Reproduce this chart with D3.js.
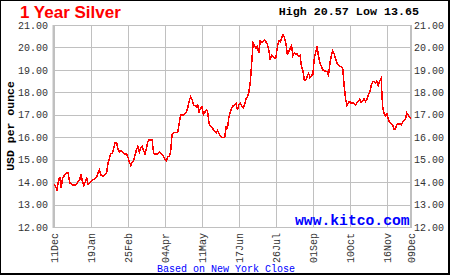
<!DOCTYPE html>
<html>
<head>
<meta charset="utf-8">
<script src="https://cdn.jsdelivr.net/npm/d3@7"></script>
<style>
  body { margin: 0; background: #fff; }
  svg { display: block; }
</style>
</head>
<body>
<script>
// tick labels along the bottom, and the trading-day index each one sits on
const dayLabels = ["11Dec", "19Jan", "25Feb", "04Apr", "11May", "17Jun", "26Jul", "01Sep", "10Oct", "16Nov", "09Dec"];
const dayTicks = [0, 26, 52, 78, 104, 130, 156, 182, 208, 234, 251];
const priceTicks = [12, 13, 14, 15, 16, 17, 18, 19, 20, 21];

// daily close, USD per ounce
const silver = [
  13.91, 13.83, 13.65, 14.02, 14.24, 13.72, 14.17, 14.27, 14.35, 14.40, 14.40, 13.97, 13.94, 13.87, 13.86, 13.87, 13.94, 14.02, 14.09, 14.35, 14.02, 13.83, 14.02, 14.17, 13.90, 13.97,
  14.02, 14.09, 14.12, 14.17, 14.24, 14.42, 14.54, 14.32, 14.27, 14.27, 14.36, 14.42, 14.84, 15.06, 15.28, 15.28, 15.50, 15.76, 15.76, 15.46, 15.35, 15.40, 15.35, 15.30, 15.25, 15.28,
  15.10, 14.90, 14.75, 14.90, 14.95, 15.20, 15.45, 15.60, 15.34, 15.55, 15.60, 15.40, 15.25, 15.50, 15.80, 15.90, 15.88, 15.88, 15.30, 15.25, 15.25, 15.25, 15.35, 15.30, 15.22, 15.15,
  15.00, 14.95, 15.15, 15.15, 15.35, 16.10, 16.20, 16.20, 16.20, 16.25, 16.60, 17.00, 17.00, 17.00, 17.05, 17.10, 17.29, 17.60, 17.80, 17.70, 17.45, 17.40, 17.35, 17.45, 17.10, 17.30,
  17.35, 17.00, 17.10, 17.21, 17.15, 16.60, 16.50, 16.45, 16.35, 16.25, 16.20, 16.30, 16.15, 16.05, 15.98, 15.98, 16.00, 16.45, 16.40, 16.90, 17.15, 17.30, 17.40, 17.43, 17.50, 17.20,
  17.45, 17.50, 17.40, 17.30, 17.45, 17.70, 17.80, 18.00, 18.45, 19.30, 20.20, 20.10, 19.95, 20.05, 19.74, 20.30, 20.25, 20.25, 20.33, 20.25, 20.15, 19.90, 19.44, 19.65, 19.60, 19.51,
  19.55, 20.00, 20.30, 20.25, 20.40, 20.57, 20.45, 20.20, 19.70, 19.80, 19.95, 20.08, 19.63, 19.75, 19.70, 19.70, 19.60, 19.65, 19.14, 18.95, 18.55, 18.55, 18.70, 18.85, 18.65, 18.75,
  18.80, 19.50, 19.80, 20.05, 19.60, 19.30, 19.15, 19.00, 18.95, 18.95, 18.92, 18.77, 19.30, 19.65, 19.84, 19.70, 19.50, 19.30, 19.20, 19.14, 19.14, 19.05, 18.30, 17.70, 17.40, 17.55,
  17.60, 17.50, 17.55, 17.48, 17.43, 17.55, 17.60, 17.69, 17.55, 17.60, 17.73, 17.60, 17.70, 17.88, 18.00, 18.30, 18.45, 18.50, 18.42, 18.50, 18.30, 18.50, 18.62, 17.40, 17.06, 16.95,
  17.05, 16.80, 16.65, 16.62, 16.55, 16.37, 16.37, 16.55, 16.60, 16.60, 16.55, 16.65, 16.75, 16.78, 17.09, 17.00, 16.90, 16.82
];

const width = 450, height = 275;
const margin = { left: 54, right: 411, top: 25, bottom: 227 };
const gridColor = "#c0c0c0";
const mono = "'Liberation Mono', 'DejaVu Sans Mono', monospace";

const svg = d3.select("body").append("svg")
    .attr("width", width)
    .attr("height", height);

// black frame round the whole picture
svg.append("rect").attr("width", width).attr("height", height).attr("fill", "#000");
svg.append("rect").attr("x", 1).attr("y", 1).attr("width", width - 3).attr("height", height - 3).attr("fill", "#fff");

const x = d3.scaleLinear().domain([0, silver.length - 1]).range([margin.left, margin.right]);
const y = d3.scaleLinear().domain([12, 21]).range([margin.bottom, margin.top]);

// horizontal grid + left labels
const yAxisLeft = svg.append("g")
    .attr("transform", `translate(${margin.left},0)`)
    .call(d3.axisLeft(y).tickValues(priceTicks).tickFormat(d3.format(".2f"))
        .tickSize(-(margin.right - margin.left)).tickPadding(6));

// right labels only
const yAxisRight = svg.append("g")
    .attr("transform", `translate(${margin.right},0)`)
    .call(d3.axisRight(y).tickValues(priceTicks).tickFormat(d3.format(".2f"))
        .tickSize(0).tickPadding(3));

// vertical grid + date labels
const xAxis = svg.append("g")
    .attr("transform", `translate(0,${margin.bottom})`)
    .call(d3.axisBottom(x).tickValues(dayTicks).tickFormat((d, i) => dayLabels[i])
        .tickSize(-(margin.bottom - margin.top)));

xAxis.selectAll(".tick text")
    .attr("transform", "rotate(-90)")
    .attr("x", -6)
    .attr("y", 0)
    .attr("dy", "0.35em")
    .style("text-anchor", "end");

[yAxisLeft, yAxisRight, xAxis].forEach(g => {
    g.select(".domain").remove();
    g.selectAll(".tick line").attr("stroke", gridColor).attr("shape-rendering", "crispEdges");
    g.selectAll(".tick text")
        .attr("fill", "#333")
        .style("font-family", mono)
        .style("font-size", "10px");
});

// heavier left and right plot edges
svg.append("line")
    .attr("x1", margin.left - 0.5).attr("x2", margin.left - 0.5)
    .attr("y1", margin.top).attr("y2", margin.bottom + 1)
    .attr("stroke", gridColor).attr("stroke-width", 2);
svg.append("line")
    .attr("x1", margin.right).attr("x2", margin.right)
    .attr("y1", margin.top).attr("y2", margin.bottom + 1)
    .attr("stroke", gridColor).attr("stroke-width", 2);

// price line, aliased like the original gif
const line = d3.line()
    .x((d, i) => x(i))
    .y(d => y(d));

svg.append("path")
    .datum(silver)
    .attr("fill", "none")
    .attr("stroke", "#ff0000")
    .attr("stroke-width", 1.5)
    .attr("shape-rendering", "crispEdges")
    .attr("d", line);

// texts
svg.append("text")
    .attr("x", 20).attr("y", 18)
    .attr("fill", "#ff0000")
    .style("font-family", "'Liberation Sans', Arial, sans-serif")
    .style("font-weight", "bold")
    .style("font-size", "17px")
    .text("1 Year Silver");

svg.append("text")
    .attr("x", 419).attr("y", 15)
    .attr("text-anchor", "end")
    .attr("fill", "#000")
    .style("font-family", mono)
    .style("font-weight", "bold")
    .style("font-size", "11.7px")
    .text(`High ${d3.max(silver).toFixed(2)} Low ${d3.min(silver).toFixed(2)}`);

svg.append("text")
    .attr("transform", `translate(14,${(margin.top + margin.bottom) / 2}) rotate(-90)`)
    .attr("text-anchor", "middle")
    .attr("fill", "#000")
    .style("font-family", mono)
    .style("font-weight", "bold")
    .style("font-size", "11.5px")
    .text("USD per ounce");

svg.append("text")
    .attr("x", 295).attr("y", 225)
    .attr("fill", "#0000ff")
    .style("font-family", mono)
    .style("font-weight", "bold")
    .style("font-size", "14.7px")
    .text("www.kitco.com");

svg.append("text")
    .attr("x", 157).attr("y", 272)
    .attr("fill", "#0000ff")
    .style("font-family", mono)
    .style("font-size", "10px")
    .text("Based on New York Close");
</script>
</body>
</html>
